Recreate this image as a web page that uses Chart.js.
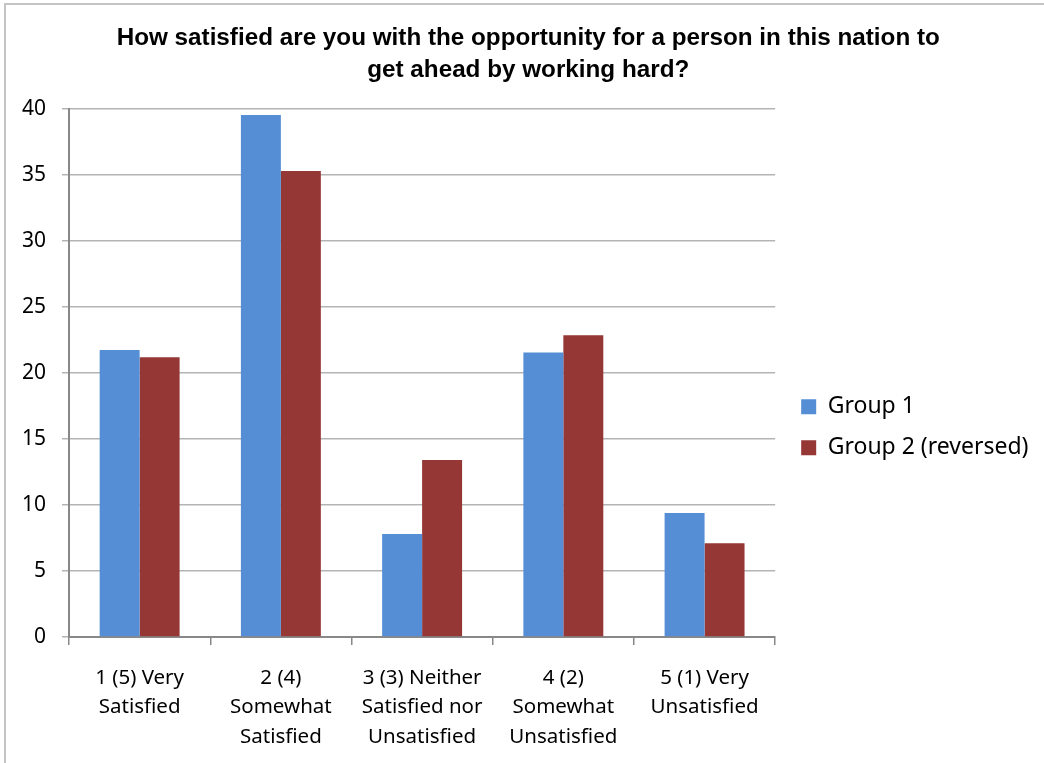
<!DOCTYPE html>
<html>
<head>
<meta charset="utf-8">
<script src="https://cdn.jsdelivr.net/npm/chart.js@4/dist/chart.umd.min.js"></script>
<style>
html,body{margin:0;padding:0;background:#fff;}
#wrap{width:1044px;height:763px;position:relative;}
</style>
</head>
<body>
<div id="wrap"><canvas id="c" width="1044" height="763"></canvas></div>
<script>
const categories = [
  ["1 (5) Very", "Satisfied"],
  ["2 (4)", "Somewhat", "Satisfied"],
  ["3 (3) Neither", "Satisfied nor", "Unsatisfied"],
  ["4 (2)", "Somewhat", "Unsatisfied"],
  ["5 (1) Very", "Unsatisfied"]
];
const group1 = [21.75, 39.55, 7.8, 21.55, 9.4];
const group2 = [21.2, 35.3, 13.4, 22.85, 7.1];
const seriesNames = ["Group 1", "Group 2 (reversed)"];
const titleLines = ["How satisfied are you with the opportunity for a person in this nation to", "get ahead by working hard?"];

const frame = {
  id: 'frame',
  afterLayout(chart) {
    const lg = chart.legend;
    if (lg) {
      const dx = 8, dy = 42.5;
      lg.left += dx; lg.right += dx;
      lg.top += dy; lg.bottom += dy;
    }
    const tb = chart.titleBlock;
    if (tb) { tb.left += 10; tb.right += 10; }
  },
  afterDraw(chart) {
    const ctx = chart.ctx;
    ctx.save();
    ctx.strokeStyle = '#c4c4c4';
    ctx.lineWidth = 2;
    ctx.strokeRect(5, 4, 1200, 1000);
    ctx.restore();
  }
};

new Chart(document.getElementById('c'), {
  type: 'bar',
  data: {
    labels: categories,
    datasets: [
      { label: seriesNames[0], data: group1, backgroundColor: '#558ed5', borderWidth: 0 },
      { label: seriesNames[1], data: group2, backgroundColor: '#953735', borderWidth: 0 }
    ]
  },
  plugins: [frame],
  options: {
    responsive: false,
    animation: false,
    devicePixelRatio: 1,
    layout: { padding: { left: 6, right: 13.5, top: 0, bottom: -6.5 } },
    datasets: { bar: { barPercentage: 1.0, categoryPercentage: 0.566 } },
    plugins: {
      title: {
        display: true,
        text: titleLines,
        color: '#000',
        font: { family: 'Liberation Sans', size: 24.25, weight: 'bold', lineHeight: 1.32 },
        padding: { top: 22, bottom: 23 }
      },
      legend: {
        position: 'right',
        labels: {
          color: '#000',
          font: { family: 'Noto Sans', size: 23 },
          boxWidth: 15, boxHeight: 15,
          padding: 18
        }
      },
      tooltip: { enabled: false }
    },
    scales: {
      x: {
        grid: { display: true, drawOnChartArea: false, drawTicks: true, tickLength: 8, color: '#888', lineWidth: 1.5, offset: true },
        border: { display: true, color: '#888', width: 2 },
        ticks: { color: '#000', font: { family: 'Noto Sans', size: 20.5, lineHeight: 1.44 }, padding: 18, maxRotation: 0, autoSkip: false }
      },
      y: {
        min: 0, max: 40,
        grid: { color: '#b4b4b4', lineWidth: 1.5, tickLength: 7, drawTicks: true },
        border: { display: true, color: '#888', width: 2 },
        ticks: { stepSize: 5, color: '#000', font: { family: 'Noto Sans', size: 21 }, padding: 16 }
      }
    }
  }
});
</script>
</body>
</html>
